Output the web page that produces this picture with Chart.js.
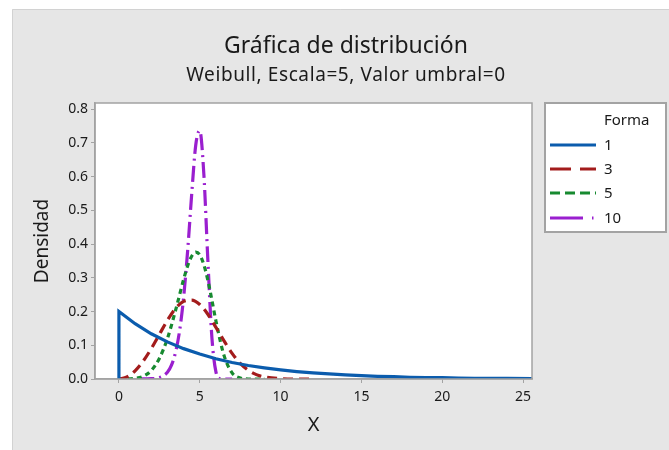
<!DOCTYPE html>
<html>
<head>
<meta charset="utf-8">
<script src="https://cdn.jsdelivr.net/npm/chart.js@4"></script>
<style>
  html, body { margin: 0; padding: 0; background: #fff; }
  canvas { display: block; }
</style>
</head>
<body>
<canvas id="c" width="669" height="450"></canvas>
<script>
// values
const seriesNames = ['1', '3', '5', '10'];

const xForma1 = [0, 0, 1, 2, 3, 4, 5, 6, 7, 8, 9, 10, 11, 12, 13, 14, 15, 16, 17, 18, 19, 20, 21, 22, 23, 24, 25.6];
const yForma1 = [0, 0.200, 0.164, 0.134, 0.110, 0.090, 0.074, 0.060, 0.049, 0.040, 0.033, 0.027, 0.022, 0.018, 0.015, 0.012, 0.010, 0.008, 0.007, 0.005, 0.004, 0.004, 0.003, 0.002, 0.002, 0.002, 0.001];

const xForma3 = [0, 0.5, 1, 1.5, 2, 2.5, 3, 3.5, 4, 4.5, 5, 5.5, 6, 6.5, 7, 7.5, 8, 8.5, 9, 10, 11, 12];
const yForma3 = [0, 0.006, 0.024, 0.053, 0.090, 0.132, 0.174, 0.209, 0.230, 0.234, 0.221, 0.192, 0.153, 0.113, 0.076, 0.046, 0.026, 0.013, 0.006, 0.001, 0.000, 0];

const xForma5 = [0, 1, 1.5, 2, 2.5, 3, 3.5, 4, 4.25, 4.5, 4.75, 5, 5.25, 5.5, 5.75, 6, 6.5, 7, 7.5, 8, 9];
const yForma5 = [0, 0.002, 0.008, 0.025, 0.061, 0.120, 0.203, 0.295, 0.335, 0.364, 0.376, 0.368, 0.339, 0.293, 0.234, 0.172, 0.070, 0.018, 0.003, 0.000, 0];

const xForma10 = [1.2, 2, 2.5, 3, 3.25, 3.5, 3.75, 4, 4.25, 4.5, 4.75, 5, 5.25, 5.5, 5.75, 6, 6.25, 6.5, 7];
const yForma10 = [0, 0.001, 0.004, 0.020, 0.041, 0.079, 0.142, 0.241, 0.380, 0.547, 0.693, 0.736, 0.609, 0.353, 0.123, 0.021, 0.001, 0, 0];

const xTicks = [0, 5, 10, 15, 20, 25];
const yTicks = [0, 0.1, 0.2, 0.3, 0.4, 0.5, 0.6, 0.7, 0.8];

const textColor = '#1a1a1a';
const frameColor = '#a3a3a3';

function pts(xs, ys) {
  return xs.map((x, i) => ({ x: x, y: ys[i] }));
}

// backgrounds, frame, titles and legend
const decor = {
  id: 'decor',
  beforeDraw(chart) {
    const ctx = chart.ctx;
    const a = chart.chartArea;
    ctx.save();
    ctx.fillStyle = '#ffffff';
    ctx.fillRect(0, 0, chart.width, chart.height);
    ctx.fillStyle = '#e6e6e6';
    ctx.fillRect(12, 9, chart.width - 12, chart.height - 9);
    ctx.strokeStyle = '#d2d2d2';
    ctx.lineWidth = 1;
    ctx.beginPath();
    ctx.moveTo(12.5, chart.height);
    ctx.lineTo(12.5, 9.5);
    ctx.lineTo(chart.width, 9.5);
    ctx.stroke();
    ctx.fillStyle = '#ffffff';
    ctx.fillRect(a.left, a.top, a.right - a.left, a.bottom - a.top);
    ctx.restore();
  },
  afterDraw(chart) {
    const ctx = chart.ctx;
    const a = chart.chartArea;
    ctx.save();
    // plot frame
    ctx.strokeStyle = frameColor;
    ctx.lineWidth = 1.5;
    ctx.strokeRect(a.left, a.top, a.right - a.left, a.bottom - a.top);

    // titles
    ctx.fillStyle = textColor;
    ctx.textAlign = 'center';
    ctx.textBaseline = 'middle';
    ctx.font = '23px "Noto Sans"';
    ctx.fillText('Gráfica de distribución', 346, 46);
    ctx.font = '19px "Noto Sans"';
    ctx.letterSpacing = '0.6px';
    ctx.fillText('Weibull, Escala=5, Valor umbral=0', 346, 76);
    ctx.letterSpacing = '0px';

    // legend
    const bx = 545, by = 103, bw = 121, bh = 129;
    ctx.fillStyle = '#ffffff';
    ctx.fillRect(bx, by, bw, bh);
    ctx.strokeStyle = frameColor;
    ctx.lineWidth = 2;
    ctx.strokeRect(bx, by, bw, bh);
    ctx.fillStyle = textColor;
    ctx.textAlign = 'left';
    ctx.font = '15px "Noto Sans"';
    ctx.fillText('Forma', 604, 121);
    const rows = [145, 169, 193, 218];
    chart.data.datasets.forEach((ds, i) => {
      const y = rows[i];
      ctx.strokeStyle = ds.borderColor;
      ctx.lineWidth = 3;
      ctx.setLineDash(ds.legendDash);
      ctx.beginPath();
      ctx.moveTo(550, y);
      ctx.lineTo(596, y);
      ctx.stroke();
      ctx.setLineDash([]);
      ctx.fillStyle = textColor;
      ctx.fillText(ds.label, 604, y + 1);
    });
    ctx.restore();
  }
};

const chart = new Chart(document.getElementById('c'), {
  type: 'line',
  data: {
    datasets: [
      {
        label: seriesNames[0],
        data: pts(xForma1, yForma1),
        borderColor: '#0b5cad',
        borderWidth: 3.2,
        tension: 0,
        legendDash: []
      },
      {
        label: seriesNames[1],
        data: pts(xForma3, yForma3),
        borderColor: '#a31c1c',
        borderWidth: 3.2,
        borderDash: [10, 6],
        cubicInterpolationMode: 'monotone',
        legendDash: [21, 9]
      },
      {
        label: seriesNames[2],
        data: pts(xForma5, yForma5),
        borderColor: '#178a30',
        borderWidth: 3.2,
        borderDash: [5, 4],
        cubicInterpolationMode: 'monotone',
        legendDash: [10, 5]
      },
      {
        label: seriesNames[3],
        data: pts(xForma10, yForma10),
        borderColor: '#9a1fcf',
        borderWidth: 3.2,
        borderDash: [16, 5, 2, 5],
        cubicInterpolationMode: 'monotone',
        legendDash: [33, 9, 1.5, 9]
      }
    ]
  },
  options: {
    responsive: false,
    animation: false,
    devicePixelRatio: 1,
    elements: { point: { radius: 0 } },
    layout: { padding: { left: 22, right: 137, top: 103, bottom: 8 } },
    plugins: {
      legend: { display: false },
      tooltip: { enabled: false }
    },
    scales: {
      x: {
        type: 'linear',
        min: -1.48,
        max: 25.55,
        afterFit: s => { s.height = 63; },
        afterBuildTicks: s => { s.ticks = xTicks.map(v => ({ value: v })); },
        grid: { drawOnChartArea: false, tickLength: 4, color: frameColor },
        border: { color: frameColor, width: 1.5 },
        ticks: {
          color: textColor,
          padding: 6,
          maxRotation: 0,
          font: { family: 'Noto Sans', size: 14 },
          callback: v => String(v)
        },
        title: {
          display: true,
          text: 'X',
          color: textColor,
          font: { family: 'Noto Sans', size: 20 },
          padding: { top: 0, bottom: 5 }
        }
      },
      y: {
        type: 'linear',
        min: 0,
        max: 0.818,
        afterFit: s => { s.width = 73; },
        afterBuildTicks: s => { s.ticks = yTicks.map(v => ({ value: v })); },
        grid: { drawOnChartArea: false, tickLength: 4, color: frameColor },
        border: { color: frameColor, width: 1.5 },
        ticks: {
          color: textColor,
          padding: 3,
          font: { family: 'Noto Sans', size: 14 },
          callback: v => v.toFixed(1)
        },
        title: {
          display: true,
          text: 'Densidad',
          color: textColor,
          font: { family: 'Noto Sans', size: 19 },
          padding: { top: 9, bottom: 0 }
        }
      }
    }
  },
  plugins: [decor]
});
</script>
</body>
</html>
